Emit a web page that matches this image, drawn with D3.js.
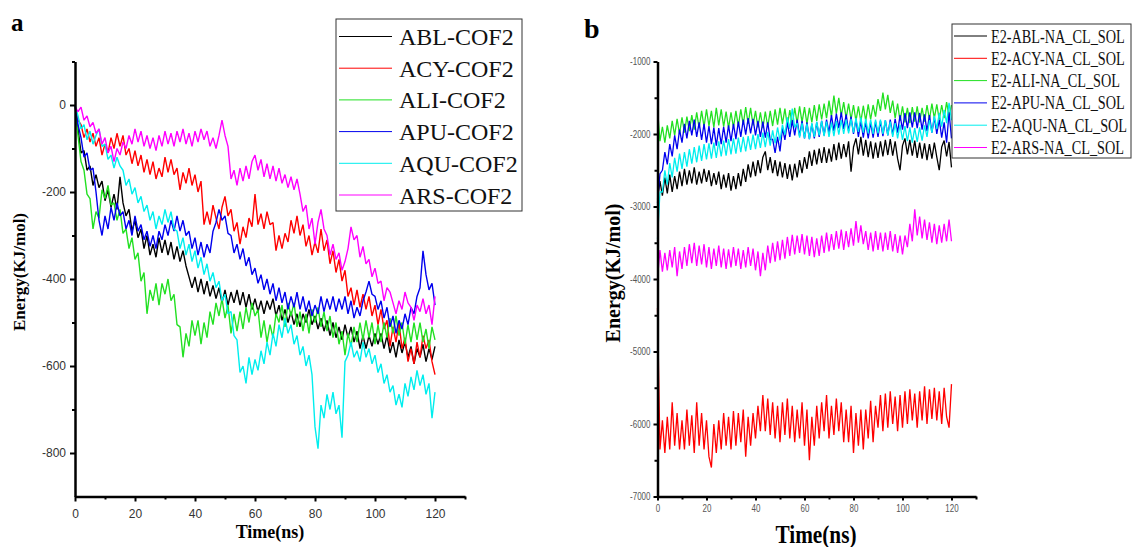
<!DOCTYPE html>
<meta charset="utf-8">
<head>
<script src="https://d3js.org/d3.v7.min.js"></script>
<style>
    body { margin: 0; background: #fff; }
    .axis path, .axis line { stroke: #000; }
</style>
</head>
<body>
<svg id="chart" width="1134" height="547"></svg>
<script>
    // time in ns, one sample per ns
    var time = d3.range(0, 121);

    // panel a : interaction energy with COF2
    var ablCof2 = [0,-55,-110,-105,-150,-140,-185,-160,-190,-175,-220,-195,-235,-205,-240,-165,-225,-255,-240,-290,-265,-305,-285,-330,-300,-345,-320,-350,-305,-340,-310,-345,-315,-355,-325,-360,-335,-370,-395,-420,-395,-430,-400,-435,-405,-440,-415,-445,-420,-455,-425,-460,-430,-455,-425,-460,-430,-465,-435,-470,-445,-475,-450,-480,-450,-470,-445,-485,-460,-495,-470,-500,-475,-505,-480,-510,-480,-500,-470,-505,-485,-515,-490,-520,-495,-530,-500,-535,-510,-540,-505,-535,-510,-545,-520,-560,-530,-560,-530,-555,-525,-550,-525,-560,-530,-570,-545,-580,-540,-570,-545,-580,-555,-595,-560,-580,-550,-590,-560,-585,-555];
    var acyCof2 = [0,-35,-45,-75,-55,-85,-65,-95,-75,-115,-90,-110,-75,-100,-65,-95,-70,-115,-100,-135,-105,-140,-115,-155,-125,-160,-130,-170,-145,-165,-120,-155,-125,-160,-145,-195,-155,-180,-145,-185,-160,-200,-175,-275,-245,-275,-230,-260,-285,-235,-210,-255,-240,-290,-270,-320,-280,-305,-260,-280,-205,-275,-250,-285,-245,-275,-270,-335,-300,-330,-295,-315,-265,-295,-255,-300,-275,-325,-300,-345,-315,-340,-285,-335,-310,-365,-335,-385,-355,-405,-380,-440,-420,-460,-425,-465,-435,-470,-440,-485,-460,-505,-470,-515,-495,-555,-510,-545,-500,-560,-535,-590,-560,-595,-545,-580,-530,-560,-540,-590,-620];
    var aliCof2 = [0,-70,-130,-150,-205,-215,-285,-245,-260,-195,-215,-185,-230,-225,-265,-240,-295,-285,-330,-305,-355,-340,-405,-385,-480,-425,-450,-410,-460,-410,-435,-400,-450,-435,-505,-510,-580,-525,-555,-495,-530,-495,-550,-500,-535,-475,-505,-455,-485,-445,-490,-460,-525,-480,-520,-475,-515,-465,-500,-455,-485,-470,-535,-495,-545,-505,-535,-480,-500,-460,-510,-455,-485,-455,-510,-475,-520,-480,-525,-470,-500,-465,-510,-475,-520,-485,-535,-500,-550,-520,-575,-525,-555,-510,-545,-500,-540,-495,-535,-500,-550,-505,-545,-500,-535,-490,-525,-485,-530,-500,-550,-505,-545,-500,-540,-500,-545,-515,-560,-510,-540];
    var apuCof2 = [0,-45,-75,-120,-110,-150,-145,-200,-265,-300,-255,-285,-235,-265,-225,-255,-245,-285,-265,-300,-255,-290,-275,-310,-290,-325,-300,-330,-290,-310,-275,-300,-265,-290,-255,-290,-265,-300,-290,-330,-305,-345,-315,-350,-320,-340,-290,-270,-240,-265,-255,-295,-300,-340,-320,-355,-330,-370,-350,-390,-375,-410,-390,-425,-400,-435,-410,-450,-420,-455,-430,-470,-440,-465,-430,-470,-440,-475,-450,-485,-460,-480,-440,-475,-445,-470,-440,-475,-445,-470,-440,-480,-450,-490,-465,-485,-450,-430,-405,-435,-440,-470,-450,-490,-465,-510,-485,-525,-495,-515,-480,-505,-465,-480,-440,-420,-335,-390,-425,-410,-460];
    var aquCof2 = [0,-25,-55,-45,-80,-60,-90,-70,-55,-95,-90,-125,-115,-145,-120,-140,-150,-185,-170,-205,-190,-225,-210,-245,-230,-265,-245,-285,-255,-275,-240,-270,-245,-285,-290,-330,-305,-345,-320,-360,-335,-375,-350,-390,-365,-405,-385,-420,-405,-450,-435,-480,-475,-530,-540,-615,-600,-640,-580,-620,-585,-610,-565,-595,-545,-575,-525,-555,-505,-535,-490,-525,-505,-550,-530,-575,-555,-600,-575,-620,-740,-790,-690,-720,-665,-700,-660,-710,-690,-765,-590,-575,-545,-580,-565,-590,-545,-580,-560,-595,-575,-615,-595,-640,-620,-660,-645,-690,-665,-695,-640,-670,-625,-655,-610,-645,-620,-665,-640,-720,-660];
    var arsCof2 = [-5,-15,-5,-35,-25,-50,-40,-65,-55,-90,-75,-110,-95,-130,-100,-115,-85,-100,-70,-90,-55,-85,-60,-95,-70,-100,-75,-105,-70,-95,-60,-90,-65,-95,-60,-85,-55,-90,-65,-95,-60,-85,-55,-80,-60,-95,-75,-100,-70,-35,-70,-95,-170,-150,-185,-145,-175,-140,-170,-130,-115,-150,-125,-165,-135,-170,-140,-175,-145,-180,-160,-190,-165,-195,-170,-205,-245,-230,-285,-260,-320,-270,-240,-285,-300,-345,-320,-355,-340,-380,-360,-330,-280,-310,-300,-350,-325,-365,-355,-395,-375,-410,-405,-450,-420,-430,-455,-480,-450,-470,-430,-455,-465,-495,-460,-475,-445,-480,-460,-505,-440];

    // panel b : interaction energy with NA, CL and SOL
    var e2Abl = [-2900,-2650,-2850,-2600,-2820,-2560,-2800,-2580,-2760,-2520,-2720,-2480,-2700,-2500,-2680,-2460,-2700,-2520,-2680,-2480,-2660,-2500,-2720,-2540,-2700,-2520,-2760,-2560,-2740,-2540,-2780,-2580,-2760,-2540,-2720,-2480,-2660,-2420,-2600,-2380,-2580,-2360,-2540,-2320,-2240,-2500,-2320,-2540,-2360,-2580,-2380,-2600,-2400,-2620,-2420,-2640,-2410,-2600,-2360,-2540,-2320,-2480,-2240,-2440,-2220,-2420,-2200,-2400,-2180,-2400,-2200,-2380,-2140,-2360,-2120,-2340,-2140,-2320,-2100,-2520,-2180,-2060,-2280,-2040,-2300,-2080,-2320,-2100,-2340,-2120,-2330,-2100,-2310,-2080,-2290,-2070,-2300,-2100,-2340,-2500,-2160,-2060,-2280,-2080,-2300,-2090,-2330,-2120,-2340,-2130,-2360,-2140,-2340,-2120,-2320,-2500,-2180,-2090,-2310,-2110,-2460];
    var e2Acy = [-4400,-6350,-5950,-6400,-5900,-6350,-5700,-6300,-5850,-6350,-5950,-6350,-5800,-6300,-5880,-6400,-5700,-6300,-5850,-6350,-5950,-6450,-6600,-6000,-6400,-5950,-6350,-5850,-6300,-5900,-6350,-5820,-6300,-5850,-6250,-5800,-6450,-5900,-6300,-5850,-6200,-5750,-6100,-5600,-6100,-5650,-6150,-5700,-6200,-5750,-6250,-5700,-6150,-5650,-6200,-5750,-6250,-5800,-6200,-5700,-6300,-5800,-6500,-5900,-6300,-5750,-6200,-5700,-6100,-5600,-6200,-5750,-6150,-5650,-6100,-5700,-6250,-5800,-6250,-5750,-6400,-5850,-6300,-5800,-6350,-5800,-6200,-5680,-6250,-5750,-6050,-5600,-6100,-5580,-6050,-5550,-6000,-5620,-6100,-5600,-6050,-5550,-6000,-5520,-5950,-5580,-6050,-5550,-5950,-5480,-6000,-5520,-5930,-5500,-5950,-5550,-6000,-5500,-5900,-6050,-5450];
    var e2Ali = [-1650,-2100,-1900,-2120,-1880,-2060,-1820,-2020,-1790,-2000,-1770,-1980,-1760,-1960,-1740,-1940,-1700,-1920,-1680,-1900,-1660,-1890,-1680,-1910,-1640,-1880,-1660,-1900,-1690,-1920,-1700,-1910,-1680,-1890,-1660,-1870,-1630,-1860,-1640,-1880,-1680,-1910,-1700,-1920,-1690,-1900,-1680,-1890,-1660,-1870,-1640,-1860,-1650,-1890,-1670,-1880,-1640,-1850,-1620,-1840,-1630,-1860,-1640,-1840,-1600,-1820,-1590,-1800,-1580,-1780,-1540,-1760,-1470,-1720,-1500,-1750,-1560,-1780,-1580,-1800,-1600,-1820,-1620,-1830,-1610,-1820,-1590,-1800,-1600,-1760,-1520,-1680,-1430,-1660,-1460,-1710,-1540,-1780,-1580,-1820,-1620,-1840,-1640,-1850,-1630,-1830,-1620,-1840,-1640,-1830,-1600,-1800,-1580,-1780,-1590,-1800,-1600,-1780,-1560,-1760,-1600];
    var e2Apu = [-2950,-2550,-2500,-2250,-2420,-2140,-2310,-2020,-2210,-1940,-2120,-1860,-2060,-1820,-2020,-1800,-2040,-1840,-2080,-1860,-2120,-1890,-2140,-1910,-2160,-1920,-2140,-1900,-2120,-1880,-2100,-1860,-2070,-1830,-2040,-1800,-2010,-1780,-1990,-1790,-2020,-1820,-2040,-1830,-2050,-1840,-2080,-2070,-2260,-2040,-2240,-1920,-2080,-1840,-2040,-1810,-2020,-1800,-2030,-1820,-2060,-1840,-2070,-1860,-2060,-1840,-2040,-1820,-2020,-1800,-1980,-1740,-1960,-1720,-1920,-1700,-1930,-1730,-1960,-1760,-2000,-1800,-2040,-1820,-2050,-1830,-2060,-1840,-2050,-1830,-2040,-1820,-2030,-1810,-2020,-1800,-2010,-1790,-1980,-1740,-1940,-1710,-1920,-1700,-1910,-1700,-1920,-1710,-1940,-1730,-1960,-1740,-1980,-1770,-2000,-1800,-2050,-1840,-2120,-1700,-2060];
    var e2Aqu = [-3450,-2800,-2800,-2500,-2700,-2400,-2600,-2330,-2520,-2270,-2480,-2250,-2450,-2210,-2410,-2180,-2390,-2160,-2370,-2140,-2350,-2130,-2340,-2120,-2330,-2100,-2310,-2090,-2300,-2070,-2280,-2060,-2270,-2050,-2250,-2040,-2240,-2030,-2220,-2010,-2210,-2000,-2190,-1980,-2180,-1970,-2160,-1950,-2130,-1910,-2090,-1870,-2010,-1770,-1930,-1650,-1910,-1850,-2050,-1850,-2060,-1860,-2070,-1850,-2040,-1830,-2020,-1820,-2030,-1830,-2040,-1840,-2030,-1820,-2010,-1810,-2000,-1800,-1990,-1790,-1980,-1780,-1970,-1770,-1980,-1790,-1990,-1800,-2000,-1800,-1990,-1800,-2000,-1810,-2020,-1830,-2040,-1850,-2060,-1870,-2080,-1890,-2100,-1910,-2120,-1920,-2110,-1910,-2090,-1880,-2040,-1810,-1980,-1750,-1930,-1710,-1900,-1670,-1850,-1570,-1810];
    var e2Ars = [-4000,-3600,-3900,-3640,-3880,-3600,-3840,-3560,-3960,-3620,-3860,-3560,-3820,-3520,-3780,-3500,-3820,-3540,-3800,-3520,-3840,-3560,-3860,-3580,-3820,-3540,-3840,-3580,-3860,-3590,-3840,-3560,-3820,-3580,-3860,-3600,-3840,-3560,-3820,-3580,-3880,-3620,-3960,-3640,-3880,-3540,-3780,-3500,-3760,-3480,-3740,-3460,-3720,-3420,-3680,-3390,-3660,-3400,-3640,-3380,-3660,-3400,-3680,-3420,-3700,-3440,-3680,-3400,-3640,-3360,-3620,-3380,-3600,-3340,-3580,-3320,-3600,-3340,-3560,-3300,-3540,-3200,-3500,-3260,-3520,-3340,-3600,-3360,-3620,-3340,-3600,-3360,-3620,-3360,-3600,-3340,-3620,-3380,-3640,-3400,-3660,-3400,-3560,-3240,-3480,-3040,-3400,-3140,-3440,-3180,-3460,-3220,-3500,-3240,-3520,-3260,-3500,-3240,-3480,-3180,-3480];

    var namesA = ["ABL-COF2", "ACY-COF2", "ALI-COF2", "APU-COF2", "AQU-COF2", "ARS-COF2"];
    var namesB = ["E2-ABL-NA_CL_SOL", "E2-ACY-NA_CL_SOL", "E2-ALI-NA_CL_SOL", "E2-APU-NA_CL_SOL", "E2-AQU-NA_CL_SOL", "E2-ARS-NA_CL_SOL"];
    var colors = ["#000000", "#ff0000", "#22e022", "#0000ee", "#00eeee", "#ff00ff"];

    var seriesA = [ablCof2, acyCof2, aliCof2, apuCof2, aquCof2, arsCof2];
    var seriesB = [e2Abl, e2Acy, e2Ali, e2Apu, e2Aqu, e2Ars];

    var xTicks = [0, 20, 40, 60, 80, 100, 120];
    var xMinor = [10, 30, 50, 70, 90, 110, 130];
    var yTicksA = [-800, -600, -400, -200, 0];
    var yMinorA = [-700, -500, -300, -100, 100];
    var yTicksB = [-7000, -6000, -5000, -4000, -3000, -2000, -1000];
    var yMinorB = [-6500, -5500, -4500, -3500, -2500, -1500];

    // plain hyphen minus, no thousands separator
    var plain = function(d) { return String(d); };

    var svg = d3.select("#chart");

    // ---------- panel a ----------
    var xA = d3.scaleLinear().domain([0, 130]).range([75, 465]);
    var yA = d3.scaleLinear().domain([-900, 100]).range([496.5, 61.5]);

    var lineA = d3.line()
        .x(function(d, i) { return xA(time[i]); })
        .y(function(d) { return yA(d); });

    svg.append("g").selectAll("path")
        .data(seriesA)
        .enter().append("path")
        .attr("d", lineA)
        .attr("fill", "none")
        .attr("stroke", function(d, i) { return colors[i]; })
        .attr("stroke-width", 1.4)
        .attr("stroke-linejoin", "bevel");

    svg.append("g").attr("class", "axis")
        .attr("transform", "translate(0,496.5)")
        .call(d3.axisBottom(xA).tickValues(xMinor).tickSize(3).tickSizeOuter(0).tickFormat(""))
        .call(function(g) { g.select(".domain").remove(); g.selectAll("line").attr("stroke-width", 2); });
    svg.append("g").attr("class", "axis")
        .attr("transform", "translate(75,0)")
        .call(d3.axisLeft(yA).tickValues(yMinorA).tickSize(3).tickSizeOuter(0).tickFormat(""))
        .call(function(g) { g.select(".domain").remove(); g.selectAll("line").attr("stroke-width", 2); });

    svg.append("g").attr("class", "axis")
        .attr("transform", "translate(0,496.5)")
        .call(d3.axisBottom(xA).tickValues(xTicks).tickSize(5).tickSizeOuter(0).tickPadding(8).tickFormat(plain))
        .call(function(g) {
            g.select(".domain").attr("stroke-width", 2.5);
            g.selectAll("line").attr("stroke-width", 2);
            g.selectAll("text").style("font", "12px 'Liberation Sans', Arial, sans-serif").attr("fill", "#333");
        });
    svg.append("g").attr("class", "axis")
        .attr("transform", "translate(75,0)")
        .call(d3.axisLeft(yA).tickValues(yTicksA).tickSize(5).tickSizeOuter(0).tickPadding(4).tickFormat(plain))
        .call(function(g) {
            g.select(".domain").attr("stroke-width", 2.5);
            g.selectAll("line").attr("stroke-width", 2);
            g.selectAll("text").style("font", "12px 'Liberation Sans', Arial, sans-serif").attr("fill", "#333");
        });

    svg.append("text")
        .attr("transform", "translate(25,272) rotate(-90)")
        .attr("text-anchor", "middle")
        .style("font", "bold 17px 'Liberation Serif', 'Times New Roman', serif")
        .text("Energy(KJ/mol)");
    svg.append("text")
        .attr("x", 270).attr("y", 538)
        .attr("text-anchor", "middle")
        .style("font", "bold 18px 'Liberation Serif', 'Times New Roman', serif")
        .text("Time(ns)");
    svg.append("text")
        .attr("x", 11).attr("y", 31)
        .style("font", "bold 25px 'Liberation Serif', 'Times New Roman', serif")
        .text("a");

    var legA = svg.append("g");
    legA.append("rect")
        .attr("x", 336).attr("y", 19).attr("width", 186).attr("height", 192)
        .attr("fill", "#fff").attr("stroke", "#333").attr("stroke-width", 1);
    namesA.forEach(function(n, i) {
        var ry = 36.5 + i * 31.7;
        legA.append("line")
            .attr("x1", 339).attr("x2", 392).attr("y1", ry).attr("y2", ry)
            .attr("stroke", colors[i]).attr("stroke-width", 1);
        legA.append("text")
            .attr("x", 399).attr("y", ry + 8.5)
            .style("font", "24px 'Liberation Serif', 'Times New Roman', serif")
            .attr("fill", "#111")
            .text(n);
    });

    // ---------- panel b ----------
    var xB = d3.scaleLinear().domain([0, 130]).range([657.5, 976]);
    var yB = d3.scaleLinear().domain([-7000, -1000]).range([496.5, 61.5]);

    var lineB = d3.line()
        .x(function(d, i) { return xB(time[i]); })
        .y(function(d) { return yB(d); });

    svg.append("g").selectAll("path")
        .data(seriesB)
        .enter().append("path")
        .attr("d", lineB)
        .attr("fill", "none")
        .attr("stroke", function(d, i) { return colors[i]; })
        .attr("stroke-width", 1.3)
        .attr("stroke-linejoin", "bevel");

    // narrow tick labels, as in the squeezed original figure
    var condense = function(g, k) {
        g.selectAll(".tick text").each(function() {
            var t = d3.select(this);
            var x = +t.attr("x") || 0;
            t.attr("transform", "translate(" + x + ",0) scale(" + k + ",1)").attr("x", 0);
        });
    };

    svg.append("g").attr("class", "axis")
        .attr("transform", "translate(0,496.5)")
        .call(d3.axisBottom(xB).tickValues(xMinor).tickSize(3).tickSizeOuter(0).tickFormat(""))
        .call(function(g) { g.select(".domain").remove(); g.selectAll("line").attr("stroke-width", 2); });
    svg.append("g").attr("class", "axis")
        .attr("transform", "translate(657.5,0)")
        .call(d3.axisLeft(yB).tickValues(yMinorB).tickSize(3).tickSizeOuter(0).tickFormat(""))
        .call(function(g) { g.select(".domain").remove(); g.selectAll("line").attr("stroke-width", 2); });

    svg.append("g").attr("class", "axis")
        .attr("transform", "translate(0,496.5)")
        .call(d3.axisBottom(xB).tickValues(xTicks).tickSize(4).tickSizeOuter(0).tickPadding(4).tickFormat(plain))
        .call(function(g) {
            g.select(".domain").attr("stroke-width", 2.5);
            g.selectAll("line").attr("stroke-width", 2);
            g.selectAll("text").style("font", "10px 'Liberation Sans', Arial, sans-serif").attr("fill", "#555");
            condense(g, 0.8);
        });
    svg.append("g").attr("class", "axis")
        .attr("transform", "translate(657.5,0)")
        .call(d3.axisLeft(yB).tickValues(yTicksB).tickSize(4).tickSizeOuter(0).tickPadding(3).tickFormat(plain))
        .call(function(g) {
            g.select(".domain").attr("stroke-width", 2.5);
            g.selectAll("line").attr("stroke-width", 2);
            g.selectAll("text").style("font", "10px 'Liberation Sans', Arial, sans-serif").attr("fill", "#555");
            condense(g, 0.8);
        });

    svg.append("text")
        .attr("transform", "translate(620,273) rotate(-90)")
        .attr("text-anchor", "middle")
        .style("font", "bold 20px 'Liberation Serif', 'Times New Roman', serif")
        .text("Energy(KJ/mol)");
    svg.append("text")
        .attr("transform", "translate(816,543) scale(0.85,1)")
        .attr("text-anchor", "middle")
        .style("font", "bold 25px 'Liberation Serif', 'Times New Roman', serif")
        .text("Time(ns)");
    svg.append("text")
        .attr("x", 584).attr("y", 38)
        .style("font", "bold 28px 'Liberation Serif', 'Times New Roman', serif")
        .text("b");

    var legB = svg.append("g");
    legB.append("rect")
        .attr("x", 952).attr("y", 24).attr("width", 179).attr("height", 134)
        .attr("fill", "#fff").attr("stroke", "#333").attr("stroke-width", 1);
    namesB.forEach(function(n, i) {
        var ry = 36 + i * 22.3;
        legB.append("line")
            .attr("x1", 954).attr("x2", 987).attr("y1", ry).attr("y2", ry)
            .attr("stroke", colors[i]).attr("stroke-width", 1);
        legB.append("text")
            .attr("transform", "translate(991," + (ry + 6.5) + ") scale(0.75,1)")
            .style("font", "19px 'Liberation Serif', 'Times New Roman', serif")
            .attr("fill", "#111")
            .text(n);
    });
</script>
</body>
